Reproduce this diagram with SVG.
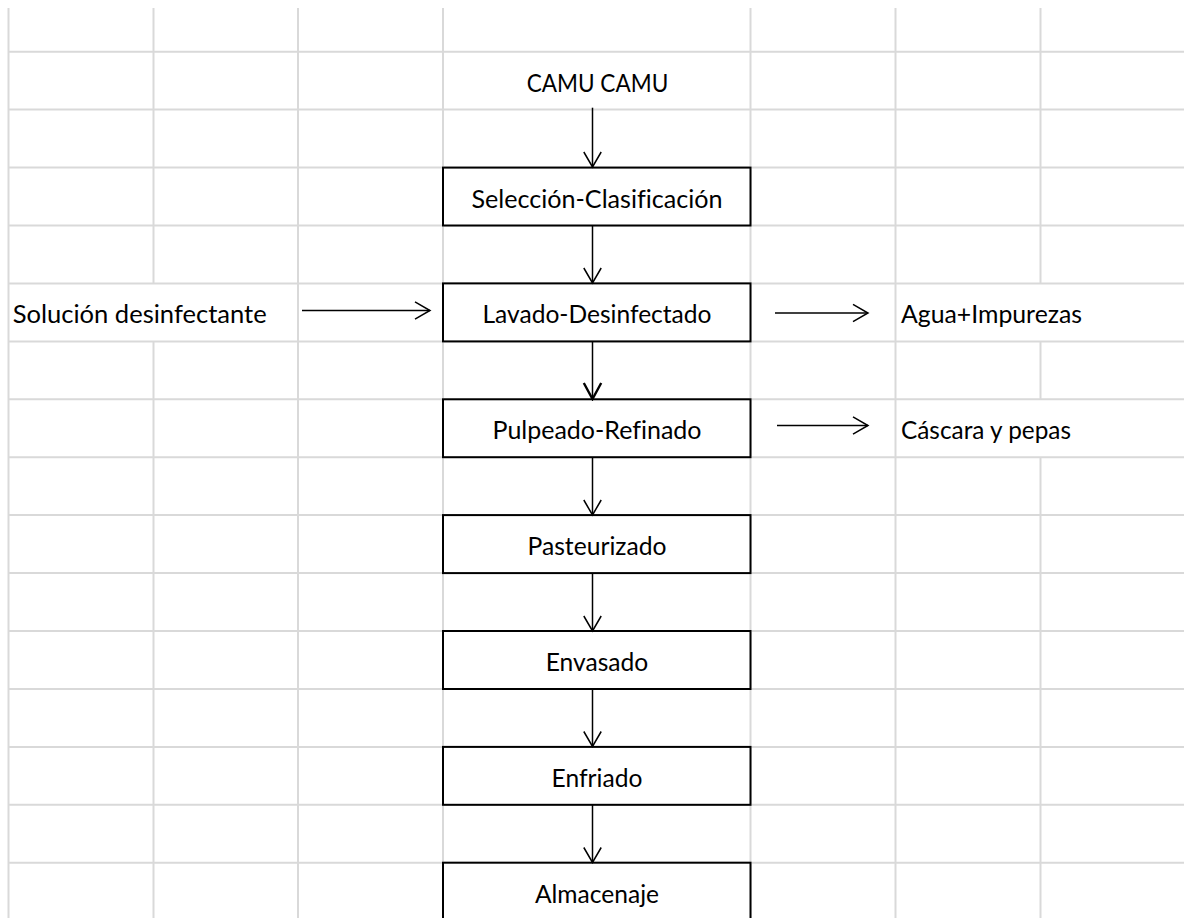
<svg xmlns="http://www.w3.org/2000/svg" width="1184" height="918" viewBox="0 0 1184 918">
<style>
.grid{stroke:#d9d9d9;stroke-width:2;fill:none}
.box{fill:#fff;stroke:#000;stroke-width:2}
.t{font-family:Lato,"Open Sans","Liberation Sans",sans-serif;font-size:25px;fill:#000;font-variant-ligatures:none;font-feature-settings:"liga" 0,"clig" 0}
.c{text-anchor:middle}
.conn{stroke:#000;stroke-width:1.5;fill:none}
</style>
<defs>
<marker id="arr" viewBox="-17 -11 19 22" refX="0" refY="0" markerWidth="19" markerHeight="22" markerUnits="userSpaceOnUse" orient="auto">
<path d="M-15,-8.7 L0,0 L-15,8.7" fill="none" stroke="#000" stroke-width="1.5"/>
</marker>
<marker id="arrb" viewBox="-17 -11 19 22" refX="0" refY="0" markerWidth="19" markerHeight="22" markerUnits="userSpaceOnUse" orient="auto">
<path d="M-16,-8.7 L0,0 L-16,8.7" fill="none" stroke="#000" stroke-width="2.4"/>
</marker>
</defs>
<rect width="1184" height="918" fill="#fff"/>
<g id="grid" class="grid">
<path d="M8,51.7H1184M8,109.6H1184M8,167.6H1184M8,225.5H1184M8,283.4H1184M8,341.4H1184M8,399.3H1184M8,457.2H1184M8,515.1H1184M8,573.1H1184M8,631H1184M8,689H1184M8,746.9H1184M8,804.8H1184M8,862.7H1184"/>
<path d="M8.5,8V918M153.5,8V283.4M153.5,341.4V918M298,8V918M443,8V918M750.5,8V918M895.5,8V918M1040.5,8V283.4M1040.5,341.4V399.3M1040.5,457.2V918"/>
</g>
<g id="n0"><text class="t c" x="597.5" y="91.7" textLength="141.6" lengthAdjust="spacingAndGlyphs">CAMU CAMU</text></g>
<g id="n1"><rect class="box" x="443" y="167.6" width="307.5" height="57.9"/><text class="t c" x="597" y="207.6" textLength="251" lengthAdjust="spacingAndGlyphs">Selección-Clasificación</text></g>
<g id="n2"><rect class="box" x="443" y="283.4" width="307.5" height="58"/><text class="t c" x="597" y="323.4" textLength="229" lengthAdjust="spacingAndGlyphs">Lavado-Desinfectado</text></g>
<g id="n3"><rect class="box" x="443" y="399.3" width="307.5" height="57.9"/><text class="t c" x="597" y="439.3" textLength="209" lengthAdjust="spacingAndGlyphs">Pulpeado-Refinado</text></g>
<g id="n4"><rect class="box" x="443" y="515.1" width="307.5" height="58"/><text class="t c" x="597" y="555.1" textLength="139" lengthAdjust="spacingAndGlyphs">Pasteurizado</text></g>
<g id="n5"><rect class="box" x="443" y="631" width="307.5" height="58"/><text class="t c" x="597" y="671" textLength="102.5" lengthAdjust="spacingAndGlyphs">Envasado</text></g>
<g id="n6"><rect class="box" x="443" y="746.9" width="307.5" height="57.9"/><text class="t c" x="597" y="786.9" textLength="90.8" lengthAdjust="spacingAndGlyphs">Enfriado</text></g>
<g id="n7"><rect class="box" x="443" y="862.7" width="307.5" height="80"/><text class="t c" x="597" y="902.7" textLength="124" lengthAdjust="spacingAndGlyphs">Almacenaje</text></g>
<g id="n8"><text class="t" x="12.7" y="323.4" textLength="254" lengthAdjust="spacingAndGlyphs">Solución desinfectante</text></g>
<g id="n9"><text class="t" x="901" y="323.4" textLength="181" lengthAdjust="spacingAndGlyphs">Agua+Impurezas</text></g>
<g id="n10"><text class="t" x="901" y="439.3" textLength="170" lengthAdjust="spacingAndGlyphs">Cáscara y pepas</text></g>
<g id="connectors" class="conn">
<path d="M592.5,107.7V167" marker-end="url(#arr)"/>
<path d="M592.5,225.5V283" marker-end="url(#arr)"/>
<path d="M592.5,341.4V399" marker-end="url(#arrb)"/>
<path d="M592.5,457.2V515" marker-end="url(#arr)"/>
<path d="M592.5,573.1V631" marker-end="url(#arr)"/>
<path d="M592.5,689V746.5" marker-end="url(#arr)"/>
<path d="M592.5,804.8V862.5" marker-end="url(#arr)"/>
<path d="M302,310.5H430" marker-end="url(#arr)"/>
<path d="M775,313H868" marker-end="url(#arr)"/>
<path d="M777,425.5H868" marker-end="url(#arr)"/>
</g>
</svg>
